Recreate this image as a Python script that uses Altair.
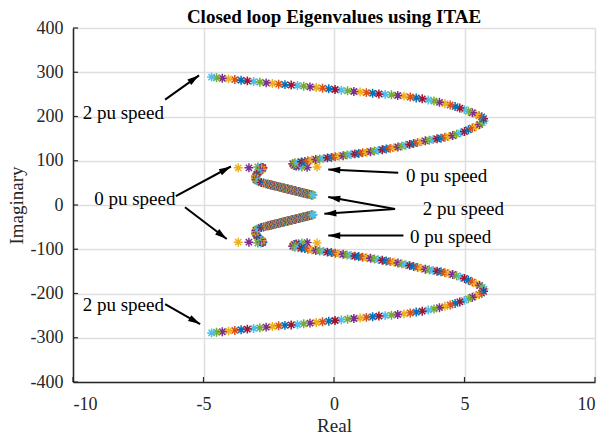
import math

import altair as alt
import pandas as pd

TITLE = "Closed loop Eigenvalues using ITAE"
X_TICKS = [-10, -5, 0, 5, 10]
Y_TICKS = [-400, -300, -200, -100, 0, 100, 200, 300, 400]

# Eigenvalue loci, one entry per speed step from 0 pu to 2 pu.
# Only the positive-imaginary member of each conjugate pair is listed.
OUTER_RE = [
    -0.65, -1.03, -1.23, -1.36, -1.45, -1.51, -1.55, -1.57, -1.58,
    -1.50, -1.38, -1.25, -1.12, -1.00, -0.85, -0.70, -0.55, -0.40, -0.25,
    -0.10, 0.05, 0.20, 0.35, 0.50, 0.65, 0.80, 0.95, 1.10, 1.25,
    1.40, 1.55, 1.70, 1.85, 2.00, 2.15, 2.30, 2.45, 2.60, 2.75,
    2.90, 3.05, 3.20, 3.35, 3.50, 3.65, 3.80, 3.95, 4.10, 4.25,
    4.40, 4.55, 4.70, 4.85, 5.00, 5.15, 5.30, 5.45, 5.58, 5.68, 5.75,
    5.73, 5.66, 5.56, 5.44, 5.30, 5.15, 4.99, 4.82, 4.64, 4.45,
    4.25, 4.04, 3.83, 3.61, 3.38, 3.15, 2.92, 2.68, 2.44, 2.20,
    1.96, 1.72, 1.48, 1.24, 1.00, 0.76, 0.52, 0.28, 0.04, -0.20,
    -0.44, -0.68, -0.92, -1.16, -1.40, -1.64, -1.88, -2.12, -2.36, -2.60,
    -2.84, -3.08, -3.32, -3.56, -3.80, -4.04, -4.28, -4.50, -4.69,
]
OUTER_IM = [
    86, 85, 86, 87, 88, 89, 90.5, 92, 93.5,
    95.5, 96.5, 97.5, 98.5, 100, 101.5, 103, 104, 105, 106.5,
    107.5, 109, 110, 111.5, 113, 114, 115.5, 116.5, 118, 119,
    120.5, 122, 123.5, 125, 126.5, 128, 129.5, 131, 133, 135,
    137, 139, 141, 143, 145, 146.5, 148, 149.5, 151, 153,
    155, 157, 160, 163, 166, 170, 174, 178, 182, 186, 190,
    195, 199, 202, 205, 208.5, 212, 215.5, 219, 222.5, 226,
    229, 232, 235, 237.5, 240, 242, 244, 246, 247.5, 249,
    250, 251, 252.5, 254, 255.5, 256.5, 258, 259.5, 261, 262.5,
    264, 265.5, 267, 268.5, 270, 271, 272, 273, 274.5, 276,
    277.5, 279, 280.5, 282, 283.5, 285, 286.5, 287.5, 289,
]
INNER_RE = [
    -3.67, -3.26, -2.92, -2.80, -2.74, -2.72, -2.74, -2.78, -2.83, -2.88,
    -2.92, -2.96, -2.99, -3.01, -3.01, -2.99, -2.94, -2.87, -2.79, -2.70, -2.62,
    -2.55, -2.53, -2.51, -2.49, -2.47, -2.45, -2.43, -2.41, -2.39, -2.37,
    -2.35, -2.33, -2.31, -2.29, -2.27, -2.25, -2.23, -2.21, -2.19, -2.17,
    -2.15, -2.13, -2.11, -2.09, -2.07, -2.05, -2.03, -2.01, -1.99, -1.97,
    -1.95, -1.93, -1.91, -1.89, -1.87, -1.85, -1.83, -1.81, -1.79, -1.77,
    -1.75, -1.73, -1.71, -1.69, -1.67, -1.65, -1.63, -1.61, -1.59, -1.57,
    -1.55, -1.53, -1.51, -1.49, -1.47, -1.45, -1.43, -1.41, -1.39, -1.37,
    -1.35, -1.33, -1.31, -1.29, -1.27, -1.25, -1.23, -1.21, -1.19, -1.17,
    -1.15, -1.13, -1.11, -1.09, -1.07, -1.05, -1.03, -1.01, -0.99, -0.97,
    -0.95, -0.93, -0.91, -0.89, -0.87, -0.85, -0.83, -0.80,
]
INNER_IM = [
    84, 84, 86, 86, 85, 84, 82, 80, 78, 75,
    72, 69, 66, 63, 60, 57, 54.5, 52.5, 51, 49.5, 48.2,
    47.3, 47.0, 46.7, 46.4, 46.1, 45.8, 45.6, 45.3, 45.0, 44.7,
    44.4, 44.1, 43.8, 43.5, 43.3, 43.0, 42.7, 42.4, 42.1, 41.8,
    41.5, 41.2, 40.9, 40.6, 40.4, 40.1, 39.8, 39.5, 39.2, 38.9,
    38.6, 38.3, 38.0, 37.7, 37.5, 37.2, 36.9, 36.6, 36.3, 36.0,
    35.7, 35.4, 35.1, 34.8, 34.6, 34.3, 34.0, 33.7, 33.4, 33.1,
    32.9, 32.6, 32.3, 32.0, 31.7, 31.4, 31.1, 30.8, 30.5, 30.2,
    30.0, 29.7, 29.4, 29.1, 28.8, 28.5, 28.2, 27.9, 27.6, 27.3,
    27.1, 26.8, 26.5, 26.2, 25.9, 25.6, 25.3, 25.0, 24.7, 24.4,
    24.2, 23.9, 23.6, 23.3, 23.0, 22.7, 22.4, 22.0,
]

# Annotation labels (text, real, imag) and arrows (from real, from imag, to real, to imag)
LABELS = [
    ("2 pu speed", -9.63, 208),
    ("0 pu speed", -9.19, 14),
    ("0 pu speed", 2.76, 65),
    ("2 pu speed", 3.40, -10),
    ("0 pu speed", 2.91, -73),
    ("2 pu speed", -9.63, -225),
]
ARROWS = [
    (-6.47, 238, -5.17, 293),
    (-6.06, 20, -3.95, 87),
    (-5.71, -5, -4.11, -77),
    (2.46, 73, -0.22, 80),
    (2.34, -9, -0.22, 18),
    (2.34, -9, -0.37, -20),
    (2.66, -69, -0.22, -69),
    (-6.47, -224, -5.13, -269),
]

COLOR_ORDER = ["#0072BD", "#D95319", "#EDB120", "#7E2F8E",
               "#77AC30", "#4DBEEE", "#A2142F"]

W, H = 522, 354
X_DOMAIN = [-10, 10]
Y_DOMAIN = [-400, 400]
PX_PER_RE = W / (X_DOMAIN[1] - X_DOMAIN[0])
PX_PER_IM = H / (Y_DOMAIN[1] - Y_DOMAIN[0])

SERIF = "Liberation Serif"
STAR = "M-1,0L1,0M0,-1L0,1M-0.7,-0.7L0.7,0.7M-0.7,0.7L0.7,-0.7"
HEAD = "M0,0L-0.42,1.5L0.42,1.5Z"
# plain hyphen-minus for negative tick labels
TICK_LABEL = "(datum.value < 0 ? '-' : '') + abs(datum.value)"

rows = []
for k in range(len(OUTER_RE)):
    col = COLOR_ORDER[(k + 2) % len(COLOR_ORDER)]
    for re_, im_ in ((OUTER_RE[k], OUTER_IM[k]), (OUTER_RE[k], -OUTER_IM[k]),
                     (INNER_RE[k], INNER_IM[k]), (INNER_RE[k], -INNER_IM[k])):
        rows.append({"order": len(rows), "re": re_, "im": im_, "col": col})
eig = pd.DataFrame(rows)

labels = pd.DataFrame(LABELS, columns=["text", "re", "im"])
arrows = pd.DataFrame(ARROWS, columns=["re0", "im0", "re1", "im1"])
arrows["angle"] = [
    math.degrees(math.atan2((r1 - r0) * PX_PER_RE, (i1 - i0) * PX_PER_IM)) % 360
    for r0, i0, r1, i1 in ARROWS
]

xs = alt.Scale(domain=X_DOMAIN, nice=False, zero=False)
ys = alt.Scale(domain=Y_DOMAIN, nice=False, zero=False)

X_AXIS = alt.Axis(
    values=X_TICKS, title="Real", grid=True, ticks=False, labelPadding=13,
    labelExpr=TICK_LABEL, titleX=W / 2, titleY=43, titleBaseline="middle")
Y_AXIS = alt.Axis(
    values=Y_TICKS, title="Imaginary", grid=True, ticks=False, labelPadding=10,
    labelExpr=TICK_LABEL, titleX=-57, titleY=H / 2, titleBaseline="middle",
    titleAlign="center")


def xenc(field):
    return alt.X(field, scale=xs, axis=X_AXIS, title="Real")


def yenc(field):
    return alt.Y(field, scale=ys, axis=Y_AXIS, title="Imaginary")


stars = alt.Chart(eig).mark_point(
    shape=STAR, filled=False, size=80, strokeWidth=1.5, opacity=1
).encode(
    x=xenc("re:Q"),
    y=yenc("im:Q"),
    color=alt.Color("col:N", scale=None, legend=None),
    order=alt.Order("order:Q"),
)

tick_x = alt.Chart(pd.DataFrame({"v": X_TICKS})).mark_rule(
    color="#262626", strokeWidth=1.2
).encode(x=xenc("v:Q"), y=alt.value(H), y2=alt.value(H - 5))

tick_y = alt.Chart(pd.DataFrame({"v": Y_TICKS})).mark_rule(
    color="#262626", strokeWidth=1.2
).encode(y=yenc("v:Q"), x=alt.value(0), x2=alt.value(5))

shafts = alt.Chart(arrows).mark_rule(color="black", strokeWidth=2).encode(
    x=xenc("re0:Q"),
    y=yenc("im0:Q"),
    x2="re1:Q",
    y2="im1:Q",
)

heads = alt.Chart(arrows).mark_point(
    shape=HEAD, filled=True, size=256, color="black", opacity=1, strokeWidth=0
).encode(
    x=xenc("re1:Q"),
    y=yenc("im1:Q"),
    angle=alt.Angle("angle:Q", scale=None),
)

texts = alt.Chart(labels).mark_text(
    font=SERIF, fontSize=19, color="black", align="left", baseline="middle"
).encode(
    x=xenc("re:Q"),
    y=yenc("im:Q"),
    text="text:N",
)

chart = alt.layer(stars, tick_x, tick_y, shafts, heads, texts).properties(
    width=W,
    height=H,
    title=alt.TitleParams(TITLE, font=SERIF, fontSize=19, fontWeight="bold",
                          color="black", anchor="middle", offset=-8),
    autosize=alt.AutoSizeParams(type="none"),
    padding={"left": 73, "top": 28, "right": 8, "bottom": 55},
).configure_view(stroke=None).configure_axis(
    labelFont=SERIF, labelFontSize=18, labelColor="#262626",
    titleFont=SERIF, titleFontSize=19, titleColor="#262626", titleFontWeight="normal",
    domainColor="#262626", domainWidth=1.5,
    gridColor="#dedede", gridWidth=1.5,
)

chart.save("out.html", embed_options={"renderer": "svg", "actions": False})
